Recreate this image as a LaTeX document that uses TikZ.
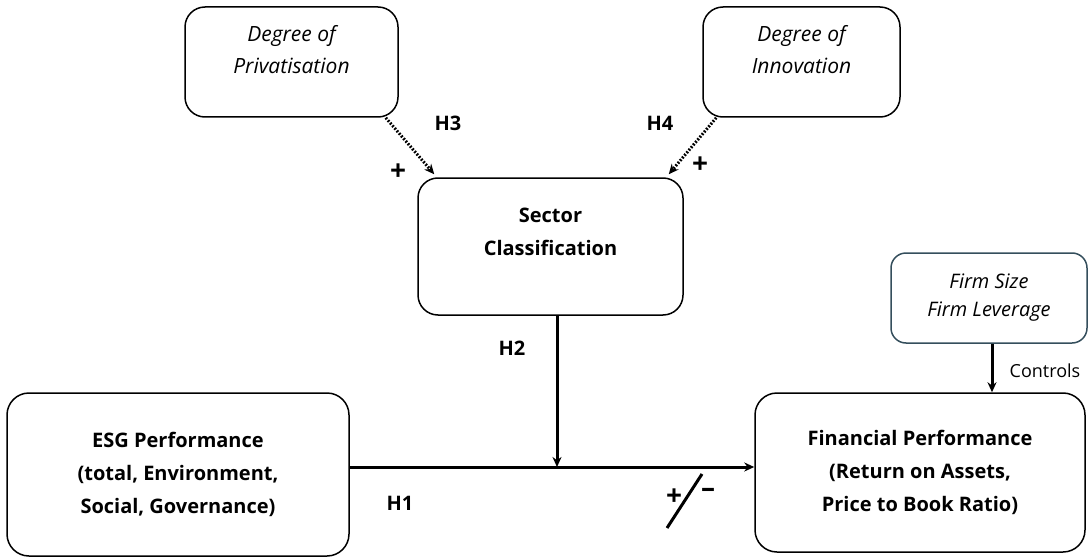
\documentclass[tikz,border=0pt]{standalone}
\usepackage{fontspec}
\setmainfont{Open Sans}
\usetikzlibrary{arrows.meta}
\definecolor{slateline}{RGB}{52,78,92}
\tikzset{
	box/.style={draw, line width=1.5pt, rounded corners=20pt, inner sep=0pt, align=center, font=\fontsize{20}{33}\selectfont\bfseries},
	itbox/.style={box, font=\fontsize{21}{32}\selectfont\itshape},
	hyp/.style={font=\fontsize{20}{22}\selectfont\bfseries},
	sign/.style={font=\fontsize{28}{28}\selectfont\bfseries},
	dotarrow/.style={line width=3pt, dash pattern=on 1.8pt off 1.6pt, -{Stealth[length=10pt,width=9pt]}},
	solidarrow/.style={line width=3pt, -{Stealth[length=10pt,width=9pt]}}
}

\begin{document}
\begin{tikzpicture}[x=1pt, y=-1pt]
			%%%%% START %%%%%
			\useasboundingbox (0, 0) rectangle (1092, 559);
			
			\node[itbox, minimum width=213pt, minimum height=110pt] (priv) at (291.5, 62) {Degree of\\Privatisation\\[-6pt]};
			\node[itbox, minimum width=197pt, minimum height=110pt] (innov) at (801.5, 62) {Degree of\\Innovation\\[-6pt]};
			
			\node[box, minimum width=265pt, minimum height=137pt] (sector) at (550.5, 246.5) {Sector\\Classification\\[-4pt]};
			
			\node[itbox, draw=slateline, rounded corners=15pt, minimum width=196pt, minimum height=90pt, font=\fontsize{20}{28}\selectfont\itshape] (firm) at (989, 298) {Firm Size\\Firm Leverage};
			
			\node[box, rounded corners=22pt, minimum width=342pt, minimum height=163pt] (esg) at (178, 474.5) {ESG Performance\\(total, Environment,\\Social, Governance)};
			\node[box, rounded corners=22pt, minimum width=330pt, minimum height=159pt] (fin) at (920, 472.5) {Financial Performance\\(Return on Assets,\\Price to Book Ratio)};
			
			\coordinate (meet) at (557, 467);
			
			% moderation paths
			\draw[dotarrow] ([xshift=-13pt]priv.south east) -- ([xshift=17pt, yshift=3pt]sector.north west);
			\draw[dotarrow] ([xshift=14pt]innov.south west) -- ([xshift=-15pt, yshift=3pt]sector.north east);
			\draw[solidarrow] (sector.south -| meet) -- (meet);
			\draw[solidarrow] (esg.east |- meet) -- (fin.west |- meet);
			\draw[solidarrow] ([xshift=3pt]firm.south) -- ([xshift=3pt]firm.south |- fin.north);
			
			\node[hyp] (h3) at (448, 123) {H3};
			\node[hyp] (h4) at (660, 123) {H4};
			\node[hyp] (h2) at (512, 348) {H2};
			\node[hyp] (h1) at (400, 503) {H1};
			\node[sign] (plusa) at (398, 172) {+};
			\node[sign] (plusb) at (700, 165) {+};
			\node[font=\fontsize{18}{20}\selectfont] (ctrl) at (1045, 371) {Controls};
			
			\node[sign] (plusc) at (674, 497) {+};
			\node[sign] (minus) at (708, 493) {\textendash};
			\draw[line width=3pt] (667, 528) -- (702, 474);
			%%%%% END %%%%%
\end{tikzpicture}
\end{document}
